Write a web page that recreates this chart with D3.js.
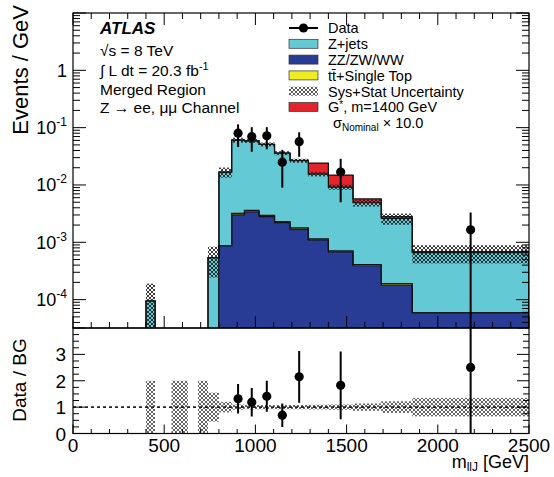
<!DOCTYPE html>
<html>
<head>
<meta charset="utf-8">
<script src="https://cdn.jsdelivr.net/npm/d3@7"></script>
<style>
  body { margin: 0; background: #fff; }
  svg { display: block; font-family: "Liberation Sans", Arial, Helvetica, sans-serif; }
</style>
</head>
<body>
<svg id="chart" width="554" height="477"></svg>
<script>
// Bin edges of the m_llJ histogram [GeV]
const binEdges = [400, 450, 540, 630, 685, 740, 800, 870, 940, 1020, 1105, 1190, 1290, 1400, 1535, 1690, 1860, 2500];

// Background and signal expectations, Events / GeV per bin
const dibosonRate = [0, 0, 0, 0, 0, 0, 8.7e-4, 3.0e-3, 3.4e-3, 2.8e-3, 2.2e-3, 1.7e-3, 1.1e-3, 6.8e-4, 3.9e-4, 1.8e-4, 5.9e-5];
const topRate     = [0, 0, 0, 0, 0, 0, 0, 2e-4, 2e-4, 1.5e-4, 1e-4, 8e-5, 5e-5, 3e-5, 2e-5, 1e-5, 0];
const zjetsRate   = [9.5e-5, 0, 1e-5, 0, 1e-5, 5.4e-4, 0.01593, 0.0575, 0.0554, 0.04805, 0.0337, 0.02472, 0.01435, 0.00849, 0.00449, 0.00241, 0.0006];
const signalRate  = [0, 0, 0, 0, 0, 0, 0, 0, 0, 0, 1e-4, 4e-4, 0.0086, 0.0057, 0.0008, 0.0002, 3e-5];

// Relative Sys+Stat uncertainty on the total background
const bgRelErr = [1.0, 0, 1.0, 0, 1.0, 0.55, 0.2, 0.1, 0.08, 0.08, 0.08, 0.08, 0.09, 0.1, 0.14, 0.22, 0.35];

// Observed data: bin centre [GeV], Events / GeV, uncertainty
const dataMass = [905, 980, 1062.5, 1147.5, 1240, 1467.5, 2180];
const dataRate = [0.080, 0.070, 0.072, 0.025, 0.057, 0.0168, 0.00165];
const dataErr  = [0.034, 0.032, 0.030, 0.016, 0.026, 0.0118, 0.00165];

// Axis ticks and labels
const xMajorTicks = [0, 500, 1000, 1500, 2000, 2500];
const yLogLabels = [
  { v: 1e-4, base: "10", exp: "-4" },
  { v: 1e-3, base: "10", exp: "-3" },
  { v: 1e-2, base: "10", exp: "-2" },
  { v: 1e-1, base: "10", exp: "-1" },
  { v: 1, base: "1", exp: "" }
];
const ratioLabels = [0, 1, 2, 3];

const colors = {
  diboson: "#283c96",
  top: "#f0ec1e",
  zjets: "#63c9d4",
  signal: "#e3242b"
};

const svg = d3.select("#chart");
const F = { left: 73, right: 529, top: 13, mid: 328, bottom: 433.5 };

const x = d3.scaleLinear().domain([0, 2500]).range([F.left, F.right]);
const y = d3.scaleLog().domain([3.2e-5, 10]).range([F.mid, F.top]);
const yr = d3.scaleLinear().domain([0, 4]).range([F.bottom, F.mid]);
const yv = v => y(Math.max(v, 1e-8));

// Patterns for the uncertainty bands
const defs = svg.append("defs");
function crossHatch(id, color, width, size) {
  const p = defs.append("pattern").attr("id", id).attr("patternUnits", "userSpaceOnUse")
    .attr("width", size).attr("height", size);
  p.append("path").attr("d", `M0,0 L${size},${size} M${size},0 L0,${size}`)
    .attr("stroke", color).attr("stroke-width", width).attr("fill", "none");
}
crossHatch("hatchMain", "#1a1a1a", 0.85, 4);
crossHatch("hatchRatio", "#666", 1.0, 4);
crossHatch("hatchLegend", "#333", 0.8, 4);

defs.append("clipPath").attr("id", "clipMain").append("rect")
  .attr("x", F.left).attr("y", F.top).attr("width", F.right - F.left).attr("height", F.mid - F.top);
defs.append("clipPath").attr("id", "clipRatio").append("rect")
  .attr("x", F.left).attr("y", F.mid).attr("width", F.right - F.left).attr("height", F.bottom - F.mid);

const nBins = binEdges.length - 1;
const bins = d3.range(nBins).map(i => ({ i, lo: binEdges[i], hi: binEdges[i + 1] }));
const bgTotal = bins.map(b => dibosonRate[b.i] + topRate[b.i] + zjetsRate[b.i]);

// ---------- Upper panel: stacked histogram ----------
const main = svg.append("g").attr("clip-path", "url(#clipMain)");
const stack = [
  { key: "diboson", rate: dibosonRate },
  { key: "top", rate: topRate },
  { key: "zjets", rate: zjetsRate },
  { key: "signal", rate: signalRate }
];
const cum = bins.map(() => 0);
const cumTops = [];
stack.forEach(s => {
  const lower = cum.slice();
  bins.forEach(b => { cum[b.i] += s.rate[b.i]; });
  const upper = cum.slice();
  cumTops.push(upper);
  main.append("g").attr("shape-rendering", "crispEdges").selectAll("rect")
    .data(bins.filter(b => s.rate[b.i] > 0))
    .join("rect")
    .attr("x", b => x(b.lo))
    .attr("width", b => x(b.hi) - x(b.lo) + 0.6)
    .attr("y", b => yv(upper[b.i]))
    .attr("height", b => yv(lower[b.i]) - yv(upper[b.i]) + 0.4)
    .attr("fill", colors[s.key]);
});

// Step outlines of each cumulative histogram
const stepLine = d3.line().x(d => d[0]).y(d => d[1]);
cumTops.forEach(top => {
  let seg = [];
  const segs = [];
  bins.forEach(b => {
    if (top[b.i] > 0) {
      if (!seg.length) seg.push([x(b.lo), F.mid + 20]);
      seg.push([x(b.lo), yv(top[b.i])], [x(b.hi), yv(top[b.i])]);
    } else if (seg.length) {
      seg.push([seg[seg.length - 1][0], F.mid + 20]);
      segs.push(seg); seg = [];
    }
  });
  if (seg.length) { seg.push([seg[seg.length - 1][0], F.mid + 20]); segs.push(seg); }
  segs.forEach(sg => main.append("path").attr("d", stepLine(sg))
    .attr("fill", "none").attr("stroke", "#111").attr("stroke-width", 1.2));
});

// Background uncertainty band
main.append("g").selectAll("rect")
  .data(bins.filter(b => bgTotal[b.i] > 0 && bgRelErr[b.i] > 0))
  .join("rect")
  .attr("x", b => x(b.lo))
  .attr("width", b => x(b.hi) - x(b.lo))
  .attr("y", b => yv(bgTotal[b.i] * (1 + bgRelErr[b.i])))
  .attr("height", b => yv(bgTotal[b.i] * (1 - bgRelErr[b.i])) - yv(bgTotal[b.i] * (1 + bgRelErr[b.i])))
  .attr("fill", "url(#hatchMain)");

// Data points
const dataPts = dataMass.map((m, k) => ({ m, v: dataRate[k], e: dataErr[k] }));
main.append("g").selectAll("line")
  .data(dataPts).join("line")
  .attr("x1", d => x(d.m)).attr("x2", d => x(d.m))
  .attr("y1", d => yv(d.v + d.e)).attr("y2", d => yv(d.v - d.e))
  .attr("stroke", "#000").attr("stroke-width", 2);
main.append("g").selectAll("circle")
  .data(dataPts).join("circle")
  .attr("cx", d => x(d.m)).attr("cy", d => y(d.v)).attr("r", 4.6).attr("fill", "#000");

// ---------- Lower panel: Data / BG ----------
const ratio = svg.append("g").attr("clip-path", "url(#clipRatio)");
ratio.append("g").selectAll("rect")
  .data(bins.filter(b => bgTotal[b.i] > 0 && bgRelErr[b.i] > 0))
  .join("rect")
  .attr("x", b => x(b.lo))
  .attr("width", b => x(b.hi) - x(b.lo))
  .attr("y", b => yr(1 + bgRelErr[b.i]))
  .attr("height", b => yr(Math.max(0, 1 - bgRelErr[b.i])) - yr(1 + bgRelErr[b.i]))
  .attr("fill", "url(#hatchRatio)");
ratio.append("line")
  .attr("x1", F.left).attr("x2", F.right).attr("y1", yr(1)).attr("y2", yr(1))
  .attr("stroke", "#222").attr("stroke-width", 1.6).attr("stroke-dasharray", "3,3");

const binOf = m => bins.find(b => m >= b.lo && m < b.hi).i;
const ratioPts = dataPts.map(d => {
  const bg = bgTotal[binOf(d.m)];
  return { m: d.m, r: d.v / bg, e: d.e / bg };
});
ratio.append("g").selectAll("line")
  .data(ratioPts).join("line")
  .attr("x1", d => x(d.m)).attr("x2", d => x(d.m))
  .attr("y1", d => yr(d.r + d.e)).attr("y2", d => yr(Math.max(0, d.r - d.e)))
  .attr("stroke", "#000").attr("stroke-width", 2);
ratio.append("g").selectAll("circle")
  .data(ratioPts).join("circle")
  .attr("cx", d => x(d.m)).attr("cy", d => yr(d.r)).attr("r", 4.6).attr("fill", "#000");

// ---------- Frames and ticks ----------
const axes = svg.append("g").attr("stroke", "#000").attr("stroke-width", 1);
function tick(x1, y1, x2, y2) {
  axes.append("line").attr("x1", x1).attr("y1", y1).attr("x2", x2).attr("y2", y2);
}
axes.append("rect").attr("x", F.left).attr("y", F.top).attr("width", F.right - F.left)
  .attr("height", F.mid - F.top).attr("fill", "none").attr("stroke-width", 1.2);
axes.append("rect").attr("x", F.left).attr("y", F.mid).attr("width", F.right - F.left)
  .attr("height", F.bottom - F.mid).attr("fill", "none").attr("stroke-width", 1.2);

const xMinor = d3.range(0, 2501, 100);
xMinor.forEach(v => {
  const major = xMajorTicks.includes(v);
  const lm = major ? 12 : 6, lr = major ? 9 : 4.5;
  tick(x(v), F.mid, x(v), F.mid - lm);
  tick(x(v), F.top, x(v), F.top + lm);
  tick(x(v), F.bottom, x(v), F.bottom - lr);
});

// log ticks on the upper panel
const [yMin, yMax] = y.domain();
for (let dec = -5; dec <= 1; dec++) {
  for (let k = 1; k <= 9; k++) {
    const v = k * Math.pow(10, dec);
    if (v < yMin * 0.999 || v > yMax * 1.001) continue;
    const len = k === 1 ? 13 : 7;
    tick(F.left, y(v), F.left + len, y(v));
    tick(F.right, y(v), F.right - len, y(v));
  }
}

// linear ticks on the ratio panel
d3.range(0, 4.001, 0.25).forEach(v => {
  const len = Math.abs(v - Math.round(v)) < 1e-6 ? 12 : 6;
  tick(F.left, yr(v), F.left + len, yr(v));
  tick(F.right, yr(v), F.right - len, yr(v));
});

// ---------- Labels ----------
const txt = svg.append("g").attr("fill", "#000");

yLogLabels.forEach(l => {
  const t = txt.append("text").attr("x", 67).attr("y", y(l.v) + 6.5)
    .attr("text-anchor", "end").attr("font-size", 18);
  t.append("tspan").text(l.base);
  if (l.exp) t.append("tspan").attr("dy", -8).attr("font-size", 12).text(l.exp);
});

ratioLabels.forEach(v => {
  txt.append("text").attr("x", 66).attr("y", yr(v) + 7)
    .attr("text-anchor", "end").attr("font-size", 19).text(v);
});

xMajorTicks.forEach(v => {
  txt.append("text").attr("x", x(v)).attr("y", 452)
    .attr("text-anchor", "middle").attr("font-size", 19).text(v);
});

// axis titles
const xt = txt.append("text").attr("x", F.right).attr("y", 468)
  .attr("text-anchor", "end").attr("font-size", 18);
xt.append("tspan").text("m");
xt.append("tspan").attr("dy", 3).attr("font-size", 12).text("llJ");
xt.append("tspan").attr("dy", -3).text(" [GeV]");

txt.append("text").attr("transform", "translate(28,5) rotate(-90)")
  .attr("text-anchor", "end").attr("font-size", 22).text("Events / GeV");
txt.append("text").attr("transform", "translate(26,380) rotate(-90)")
  .attr("text-anchor", "middle").attr("font-size", 19).text("Data / BG");

// ATLAS label block
const lx = 100;
txt.append("text").attr("x", lx).attr("y", 34).attr("font-size", 17)
  .attr("font-weight", "bold").attr("font-style", "italic").text("ATLAS");
txt.append("text").attr("x", lx).attr("y", 56).attr("font-size", 15.5).text("√s = 8 TeV");
const lumi = txt.append("text").attr("x", lx).attr("y", 76).attr("font-size", 15.5);
lumi.append("tspan").text("∫ L dt = 20.3 fb");
lumi.append("tspan").attr("dy", -6).attr("font-size", 11).text("-1");
txt.append("text").attr("x", lx).attr("y", 95).attr("font-size", 15.5).text("Merged Region");
txt.append("text").attr("x", lx).attr("y", 113).attr("font-size", 15.5).text("Z → ee, μμ Channel");

// Legend
const legend = svg.append("g");
const legX = 289, legW = 29, legTextX = 328, legFont = 14.5;
const rowY = i => 28 + 15.8 * i;
legend.append("line").attr("x1", legX).attr("x2", legX + legW).attr("y1", rowY(0)).attr("y2", rowY(0))
  .attr("stroke", "#000").attr("stroke-width", 2);
legend.append("circle").attr("cx", legX + legW / 2).attr("cy", rowY(0)).attr("r", 4.6);
const boxes = [
  { row: 1, fill: colors.zjets },
  { row: 2, fill: colors.diboson },
  { row: 3, fill: colors.top },
  { row: 4, fill: "url(#hatchLegend)" },
  { row: 5, fill: colors.signal }
];
boxes.forEach(b => {
  legend.append("rect").attr("x", legX).attr("y", rowY(b.row) - 4.5).attr("width", legW).attr("height", 9)
    .attr("fill", b.fill).attr("stroke", b.row === 4 ? "none" : "#333").attr("stroke-width", 0.7);
});
const legTexts = ["Data", "Z+jets", "ZZ/ZW/WW", "tt\u0304+Single Top", "Sys+Stat Uncertainty"];
legTexts.forEach((t, i) => {
  legend.append("text").attr("x", legTextX).attr("y", rowY(i) + 5.3).attr("font-size", legFont).text(t);
});
const gs = legend.append("text").attr("x", legTextX).attr("y", rowY(5) + 5.3).attr("font-size", legFont);
gs.append("tspan").text("G");
gs.append("tspan").attr("dy", -4).attr("font-size", 10).text("*");
gs.append("tspan").attr("dy", 4).text(", m=1400 GeV");
const sig = legend.append("text").attr("x", 333).attr("y", rowY(6) + 5).attr("font-size", legFont);
sig.append("tspan").text("σ");
sig.append("tspan").attr("dy", 3).attr("font-size", 10).text("Nominal");
sig.append("tspan").attr("dy", -3).text(" × 10.0");
</script>
</body>
</html>
